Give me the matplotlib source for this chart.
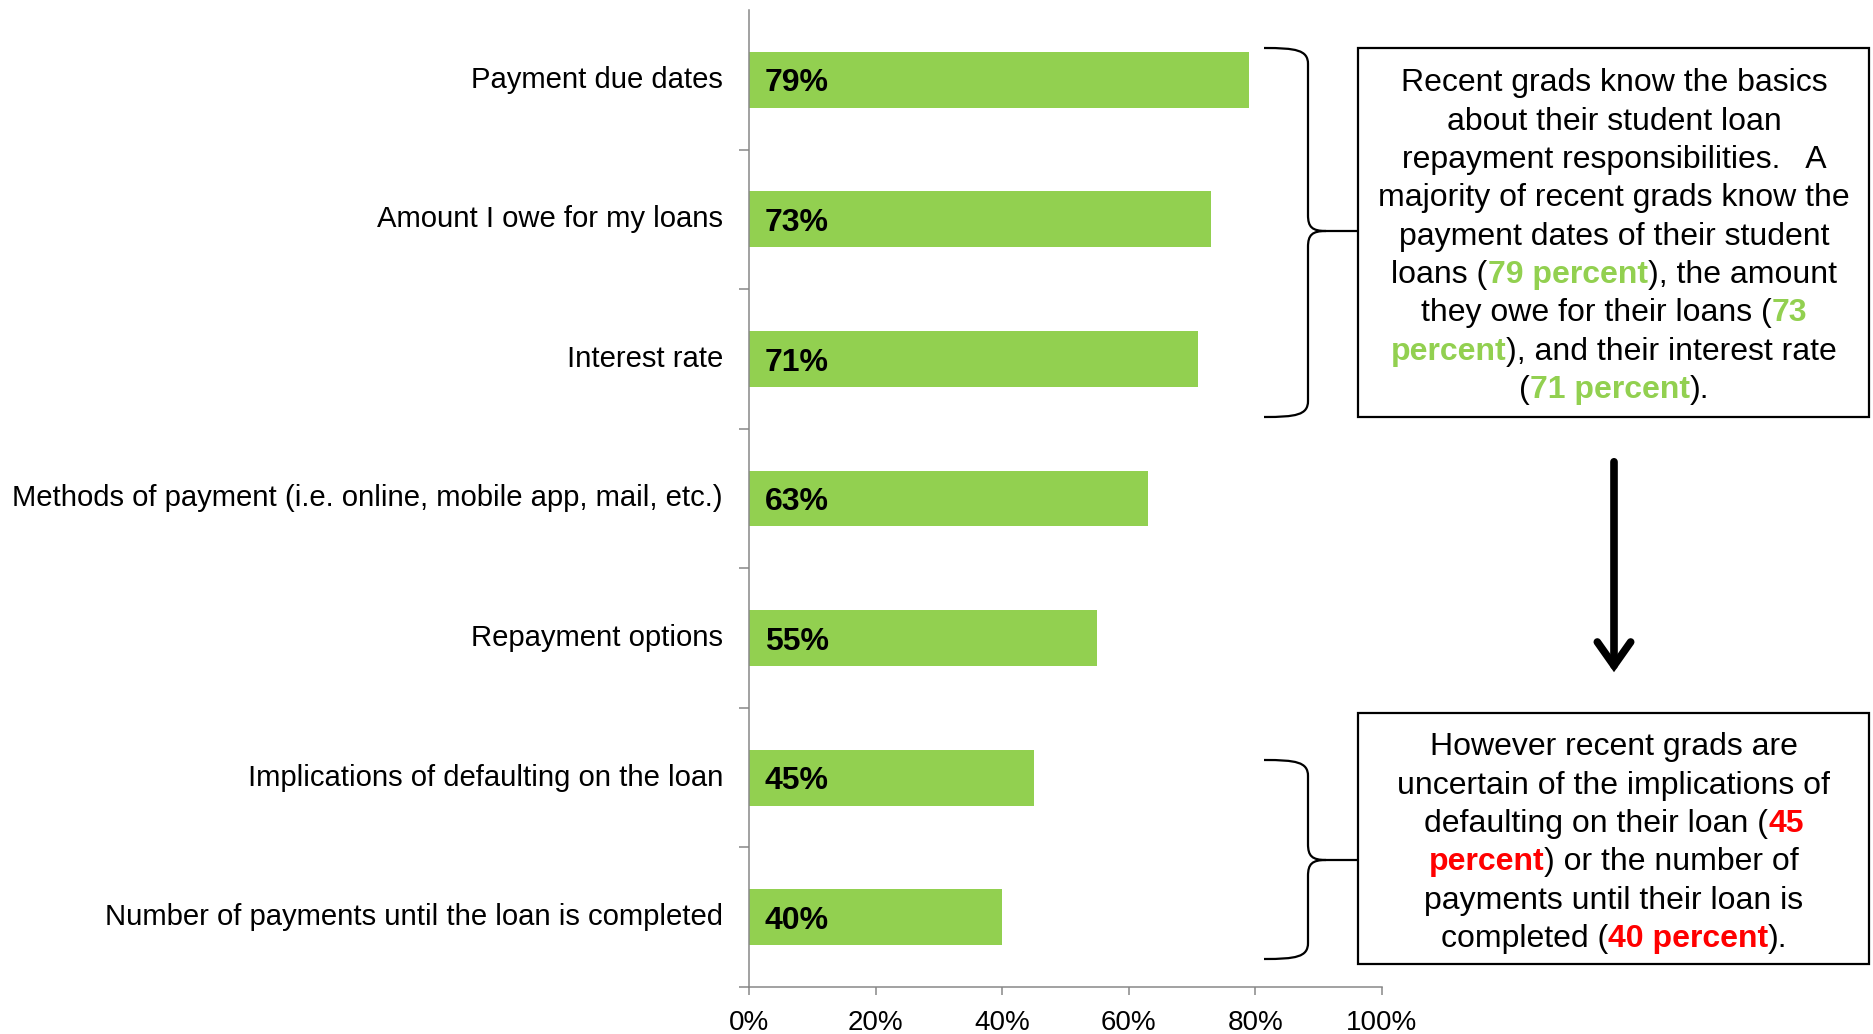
import matplotlib
matplotlib.use("Agg")
import matplotlib.pyplot as plt
import numpy as np
from matplotlib.path import Path
from matplotlib.patches import PathPatch, Rectangle, FancyArrowPatch

plt.rcParams['font.family'] = ['Liberation Sans', 'DejaVu Sans']

# Survey results: share of recent grads who know each repayment detail
categories = [
    "Payment due dates",
    "Amount I owe for my loans",
    "Interest rate",
    "Methods of payment (i.e. online, mobile app, mail, etc.)",
    "Repayment options",
    "Implications of defaulting on the loan",
    "Number of payments until the loan is completed",
]
values = [79, 73, 71, 63, 55, 45, 40]
x_ticks = [0, 20, 40, 60, 80, 100]

BAR = "#92D050"
AXIS_GREY = "#878787"
GREEN = "#92D050"
RED = "#FF0000"

W, H = 1873, 1034
fig = plt.figure(figsize=(W / 100, H / 100), dpi=100)
ax = fig.add_axes([749 / W, 1 - 987 / H, (1382 - 749) / W, (987 - 10) / H])

y = np.arange(len(categories))
ax.barh(y, values, height=0.4, color=BAR, zorder=2)
ax.set_ylim(len(categories) - 0.5, -0.5)
ax.set_xlim(0, 100)

for yi, v in zip(y, values):
    ax.annotate(f"{v}%", xy=(0, yi), xytext=(11.5, -8.4), textcoords="offset points",
                ha="left", va="baseline", fontsize=23, fontweight="bold", color="black", zorder=3)

# category boundaries carry the tick marks, centres carry the labels
ax.set_yticks(np.arange(len(categories)) + 0.5)
ax.set_yticklabels([])
ax.set_yticks(y, minor=True)
ax.set_yticklabels(categories, minor=True, fontsize=21.1)
ax.tick_params(axis="y", which="major", length=7, width=1.1, color=AXIS_GREY)
ax.tick_params(axis="y", which="minor", length=0, pad=18.7)
for lab in ax.get_yticklabels(minor=True):
    lab.set_verticalalignment("center")

ax.set_xticks(x_ticks)
ax.set_xticklabels([f"{t}%" for t in x_ticks], fontsize=20)
ax.tick_params(axis="x", length=6, width=1.1, color=AXIS_GREY, pad=10.5)

for s in ("top", "right"):
    ax.spines[s].set_visible(False)
for s in ("left", "bottom"):
    ax.spines[s].set_color(AXIS_GREY)
    ax.spines[s].set_linewidth(1.1)

# overlay in pixel units for the callouts
ov = fig.add_axes([0, 0, 1, 1], facecolor="none")
ov.set_xlim(0, W)
ov.set_ylim(H, 0)
ov.axis("off")


def brace(xl, xv, xt, y0, ym, y1):
    verts = [
        (xl, y0), (xv - 12, y0), (xv, y0 + 2), (xv, y0 + 16),
        (xv, ym - 16),
        (xv, ym - 4), (xv + 4, ym), (xv + 18, ym),
        (xt, ym),
        (xv + 18, ym), (xv + 4, ym), (xv, ym + 4), (xv, ym + 16),
        (xv, y1 - 16),
        (xv, y1 - 2), (xv - 12, y1), (xl, y1),
    ]
    codes = [Path.MOVETO, Path.CURVE4, Path.CURVE4, Path.CURVE4,
             Path.LINETO,
             Path.CURVE4, Path.CURVE4, Path.CURVE4,
             Path.LINETO,
             Path.MOVETO, Path.CURVE4, Path.CURVE4, Path.CURVE4,
             Path.LINETO,
             Path.CURVE4, Path.CURVE4, Path.CURVE4]
    ov.add_patch(PathPatch(Path(verts, codes), fill=False, lw=1.6, color="black",
                           capstyle="butt"))


brace(1264, 1308, 1358, 48, 231, 417)
brace(1264, 1308, 1358, 760, 860, 959)

ov.add_patch(Rectangle((1358, 48), 1869 - 1358, 417 - 48, fill=False, lw=1.6, ec="black"))
ov.add_patch(Rectangle((1358, 713), 1869 - 1358, 964 - 713, fill=False, lw=1.6, ec="black"))

ov.add_patch(FancyArrowPatch((1614, 459), (1614, 675),
                             arrowstyle="->,head_length=0.85,head_width=0.6",
                             mutation_scale=20, lw=5.5, color="black",
                             capstyle="round", joinstyle="miter"))

renderer = fig.canvas.get_renderer()
TXT = 23


def rich_line(xc, yc, runs):
    texts = []
    for s, color, bold in runs:
        t = ov.text(0, yc + 11.5, s, color=color, fontsize=TXT,
                    fontweight="bold" if bold else "normal", ha="left", va="baseline")
        texts.append(t)
    widths = [t.get_window_extent(renderer).width for t in texts]
    x = xc - sum(widths) / 2
    for t, w in zip(texts, widths):
        t.set_x(x)
        x += w


def pct(v):
    return f"{v} percent"


K = "black"
box1 = [
    [("Recent grads know the basics", K, False)],
    [("about their student loan", K, False)],
    [("repayment responsibilities.   A", K, False)],
    [("majority of recent grads know the", K, False)],
    [("payment dates of their student", K, False)],
    [("loans (", K, False), (pct(values[0]), GREEN, True), ("), the amount", K, False)],
    [("they owe for their loans (", K, False), (str(values[1]), GREEN, True)],
    [("percent", GREEN, True), ("), and their interest rate", K, False)],
    [("(", K, False), (pct(values[2]), GREEN, True), (").", K, False)],
]
box2 = [
    [("However recent grads are", K, False)],
    [("uncertain of the implications of", K, False)],
    [("defaulting on their loan (", K, False), (str(values[5]), RED, True)],
    [("percent", RED, True), (") or the number of", K, False)],
    [("payments until their loan is", K, False)],
    [("completed (", K, False), (pct(values[6]), RED, True), (").", K, False)],
]

for i, runs in enumerate(box1):
    rich_line(1614, 80 + i * 38.3, runs)
for i, runs in enumerate(box2):
    rich_line(1614, 744 + i * 38.3, runs)

fig.savefig("out.png", dpi=100)
